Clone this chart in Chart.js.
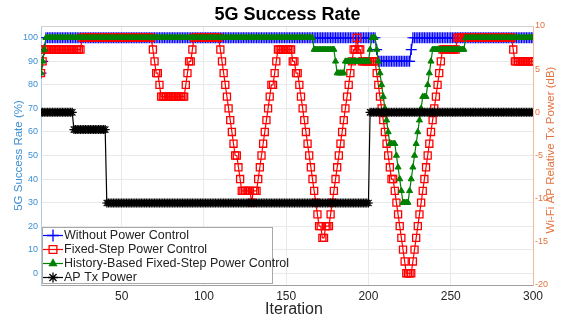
<!DOCTYPE html>
<html>
<head>
<meta charset="utf-8">
<title>5G Success Rate</title>
<script src="https://cdn.jsdelivr.net/npm/chart.js@4.4.1/dist/chart.umd.min.js"></script>
<style>
  html, body { margin: 0; padding: 0; background: #ffffff; }
  canvas { display: block; }
</style>
</head>
<body>
<canvas id="chart" width="575" height="320"></canvas>
<script>
// Iteration index (x axis) and tick positions
const ITERATIONS = Array.from({ length: 300 }, (_, i) => i + 1);
const X_TICKS = [50, 100, 150, 200, 250, 300];
const LEFT_TICKS = [0, 10, 20, 30, 40, 50, 60, 70, 80, 90, 100];
const RIGHT_TICKS = [-20, -15, -10, -5, 0, 5, 10];

const SERIES_NAMES = [
  'Without Power Control',
  'Fixed-Step Power Control',
  'History-Based Fixed-Step Power Control',
  'AP Tx Power'
];

// 5G success rate (%) without any AP power control
const WITHOUT_CONTROL = [
  85,90,95,100,100,100,100,100,100,100,100,100,100,100,100,100,100,100,100,100,
  100,100,100,100,100,100,100,100,100,100,100,100,100,100,100,100,100,100,100,100,
  100,100,100,100,100,100,100,100,100,100,100,100,100,100,100,100,100,100,100,100,
  100,100,100,100,100,100,100,100,100,100,100,100,100,100,100,100,100,100,100,100,
  100,100,100,100,100,100,100,100,100,100,100,100,100,100,100,100,100,100,100,100,
  100,100,100,100,100,100,100,100,100,100,100,100,100,100,100,100,100,100,100,100,
  100,100,100,100,100,100,100,100,100,100,100,100,100,100,100,100,100,100,100,100,
  100,100,100,100,100,100,100,100,100,100,100,100,100,100,100,100,100,100,100,100,
  100,100,100,100,100,100,100,100,100,100,100,100,100,100,100,100,100,100,100,100,
  100,100,100,100,100,100,100,100,100,100,100,100,100,100,100,100,100,100,100,100,
  100,100,100,100,95,90,90,90,90,90,90,90,90,90,90,90,90,90,90,90,
  90,90,90,90,90,95,100,100,100,100,100,100,100,100,100,100,100,100,100,100,
  100,100,100,100,100,100,100,100,100,100,100,100,100,100,100,100,100,100,100,100,
  100,100,100,100,100,100,100,100,100,100,100,100,100,100,100,100,100,100,100,100,
  100,100,100,100,100,100,100,100,100,100,100,100,100,100,100,100,100,100,100,100
];

// 5G success rate (%) with fixed-step AP power control
const FIXED_STEP = [
  85,90,95,95,95,95,95,95,95,95,95,95,95,95,95,95,95,95,95,95,
  95,95,95,95,95,100,100,100,100,100,100,100,100,100,100,100,100,100,100,100,
  100,100,100,100,100,100,100,100,100,100,100,100,100,100,100,100,100,100,100,100,
  100,100,100,100,100,100,100,100,95,90,85,85,80,75,75,75,75,75,75,75,
  75,75,75,75,75,75,75,75,80,85,90,90,95,100,100,100,100,100,100,100,
  100,100,100,100,100,100,100,100,100,95,90,85,80,75,70,65,60,55,50,50,
  45,40,35,35,35,35,35,35,30,35,35,35,40,45,50,55,60,65,70,75,
  80,80,85,90,95,95,95,95,95,95,95,95,95,90,90,85,85,80,75,70,
  65,60,55,50,45,40,35,30,25,20,20,15,15,20,20,20,25,30,35,40,
  45,50,55,60,65,70,75,80,85,90,95,95,100,95,95,90,90,90,90,90,
  90,90,90,90,85,80,75,70,65,60,55,50,45,40,40,35,30,25,20,15,
  10,5,0,0,0,0,5,10,15,20,25,30,35,40,45,50,55,60,65,70,
  75,80,85,90,95,95,95,95,95,95,95,95,95,100,100,100,100,100,100,100,
  100,100,100,100,100,100,100,100,100,100,100,100,100,100,100,100,100,100,100,100,
  100,100,100,100,100,100,100,95,90,90,90,90,90,90,90,90,90,90,90,90
];

// 5G success rate (%) with history-based fixed-step AP power control
const HISTORY_BASED = [
  85,90,95,100,100,100,100,100,100,100,100,100,100,100,100,100,100,100,100,100,
  100,100,100,100,100,100,100,100,100,100,100,100,100,100,100,100,100,100,100,100,
  100,100,100,100,100,100,100,100,100,100,100,100,100,100,100,100,100,100,100,100,
  100,100,100,100,100,100,100,100,100,100,100,100,100,100,100,100,100,100,100,100,
  100,100,100,100,100,100,100,100,100,100,100,100,100,100,100,100,100,100,100,100,
  100,100,100,100,100,100,100,100,100,100,100,100,100,100,100,100,100,100,100,100,
  100,100,100,100,100,100,100,100,100,100,100,100,100,100,100,100,100,100,100,100,
  100,100,100,100,100,100,100,100,100,100,100,100,100,100,100,100,100,100,100,100,
  100,100,100,100,100,100,95,95,95,95,95,95,95,95,95,95,95,95,95,90,
  85,85,85,85,85,90,90,90,90,90,90,90,90,90,90,90,90,90,90,90,
  95,100,100,100,95,90,85,80,75,70,65,60,55,55,55,55,50,45,40,35,
  30,30,30,30,35,40,45,50,55,60,65,70,75,75,75,80,85,90,95,95,
  95,95,95,95,95,95,95,95,95,95,95,95,95,95,95,95,95,95,100,100,
  100,100,100,100,100,100,100,100,100,100,100,100,100,100,100,100,100,100,100,100,
  100,100,100,100,100,100,100,100,100,100,100,100,100,100,100,100,100,100,100,100
];

// Relative Wi-Fi AP transmit power (dB)
const AP_TX_POWER = [
  0,0,0,0,0,0,0,0,0,0,0,0,0,0,0,0,0,0,0,0,
  -2,-2,-2,-2,-2,-2,-2,-2,-2,-2,-2,-2,-2,-2,-2,-2,-2,-2,-2,-2,
  -10.5,-10.5,-10.5,-10.5,-10.5,-10.5,-10.5,-10.5,-10.5,-10.5,-10.5,-10.5,-10.5,-10.5,-10.5,-10.5,-10.5,-10.5,-10.5,-10.5,
  -10.5,-10.5,-10.5,-10.5,-10.5,-10.5,-10.5,-10.5,-10.5,-10.5,-10.5,-10.5,-10.5,-10.5,-10.5,-10.5,-10.5,-10.5,-10.5,-10.5,
  -10.5,-10.5,-10.5,-10.5,-10.5,-10.5,-10.5,-10.5,-10.5,-10.5,-10.5,-10.5,-10.5,-10.5,-10.5,-10.5,-10.5,-10.5,-10.5,-10.5,
  -10.5,-10.5,-10.5,-10.5,-10.5,-10.5,-10.5,-10.5,-10.5,-10.5,-10.5,-10.5,-10.5,-10.5,-10.5,-10.5,-10.5,-10.5,-10.5,-10.5,
  -10.5,-10.5,-10.5,-10.5,-10.5,-10.5,-10.5,-10.5,-10.5,-10.5,-10.5,-10.5,-10.5,-10.5,-10.5,-10.5,-10.5,-10.5,-10.5,-10.5,
  -10.5,-10.5,-10.5,-10.5,-10.5,-10.5,-10.5,-10.5,-10.5,-10.5,-10.5,-10.5,-10.5,-10.5,-10.5,-10.5,-10.5,-10.5,-10.5,-10.5,
  -10.5,-10.5,-10.5,-10.5,-10.5,-10.5,-10.5,-10.5,-10.5,-10.5,-10.5,-10.5,-10.5,-10.5,-10.5,-10.5,-10.5,-10.5,-10.5,-10.5,
  -10.5,-10.5,-10.5,-10.5,-10.5,-10.5,-10.5,-10.5,-10.5,-10.5,-10.5,-10.5,-10.5,-10.5,-10.5,-10.5,-10.5,-10.5,-10.5,-10.5,
  0,0,0,0,0,0,0,0,0,0,0,0,0,0,0,0,0,0,0,0,
  0,0,0,0,0,0,0,0,0,0,0,0,0,0,0,0,0,0,0,0,
  0,0,0,0,0,0,0,0,0,0,0,0,0,0,0,0,0,0,0,0,
  0,0,0,0,0,0,0,0,0,0,0,0,0,0,0,0,0,0,0,0,
  0,0,0,0,0,0,0,0,0,0,0,0,0,0,0,0,0,0,0,0
];

const FONT = '"Liberation Sans", Arial, Helvetica, sans-serif';
const LEFT_COLOR = '#3d8fd3';
const RIGHT_COLOR = '#e2733f';
const GRID_COLOR = '#e9e9e9';

// Boxed legend in the lower-left corner of the plot, plus the top frame line
// and the right-hand / x-axis titles.
const decorations = {
  id: 'decorations',
  afterDatasetsDraw(chart) {
    const { ctx, chartArea: a } = chart;
    ctx.save();
    // top frame line
    ctx.strokeStyle = '#d2d2d2';
    ctx.lineWidth = 1;
    ctx.beginPath();
    ctx.moveTo(a.left, a.top + 0.5);
    ctx.lineTo(a.right, a.top + 0.5);
    ctx.stroke();

    // legend box
    const w = 231, h = 57;
    const x0 = a.left + 1, y0 = a.bottom - 1 - h;
    ctx.fillStyle = '#ffffff';
    ctx.fillRect(x0, y0, w, h);
    ctx.strokeStyle = '#a8a8a8';
    ctx.strokeRect(x0 + 0.5, y0 + 0.5, w - 1, h - 1);
    ctx.font = '12.5px ' + FONT;
    ctx.textBaseline = 'middle';
    ctx.textAlign = 'left';
    chart.data.datasets.forEach((ds, i) => {
      const y = y0 + 8.5 + i * 14;
      ctx.strokeStyle = ds.borderColor;
      ctx.lineWidth = 1.2;
      ctx.beginPath();
      ctx.moveTo(x0 + 1, y);
      ctx.lineTo(x0 + 21, y);
      ctx.stroke();
      ctx.fillStyle = ds.pointBackgroundColor;
      ctx.lineWidth = 1.3;
      Chart.helpers.drawPoint(ctx, {
        pointStyle: ds.pointStyle, radius: ds.pointRadius + 0.5,
        borderWidth: 1.3, rotation: 0
      }, x0 + 11, y);
      ctx.fillStyle = '#222222';
      ctx.fillText(SERIES_NAMES[i], x0 + 22, y + 0.5);
    });

    // right axis title (reads bottom to top)
    ctx.save();
    ctx.translate(551, 150);
    ctx.rotate(-Math.PI / 2);
    ctx.textAlign = 'center';
    ctx.fillStyle = RIGHT_COLOR;
    ctx.font = '11.5px ' + FONT;
    ctx.fillText('Wi-Fi AP Relative Tx Power (dB)', 0, 0);
    ctx.restore();

    // x axis title
    ctx.textAlign = 'center';
    ctx.fillStyle = '#262626';
    ctx.font = '16px ' + FONT;
    ctx.fillText('Iteration', 294, 310);
    ctx.restore();
  }
};

const ticksFrom = (list) => (scale) => { scale.ticks = list.map(v => ({ value: v })); };

new Chart(document.getElementById('chart'), {
  type: 'line',
  data: {
    labels: ITERATIONS,
    datasets: [
      {
        label: SERIES_NAMES[0], data: WITHOUT_CONTROL, yAxisID: 'y', order: 3,
        borderColor: '#0000ff', borderWidth: 1.2,
        pointStyle: 'cross', pointRadius: 5.5, pointBorderWidth: 1.2,
        pointBackgroundColor: '#0000ff', pointBorderColor: '#0000ff'
      },
      {
        label: SERIES_NAMES[1], data: FIXED_STEP, yAxisID: 'y', order: 2,
        borderColor: '#ff0000', borderWidth: 1.2,
        pointStyle: 'rect', pointRadius: 5, pointBorderWidth: 1.3,
        pointBackgroundColor: 'rgba(255,255,255,0)', pointBorderColor: '#ff0000'
      },
      {
        label: SERIES_NAMES[2], data: HISTORY_BASED, yAxisID: 'y', order: 1,
        borderColor: '#008000', borderWidth: 1.2,
        pointStyle: 'triangle', pointRadius: 3.5, pointBorderWidth: 1,
        pointBackgroundColor: '#008000', pointBorderColor: '#008000'
      },
      {
        label: SERIES_NAMES[3], data: AP_TX_POWER, yAxisID: 'y1', order: 0,
        borderColor: '#000000', borderWidth: 1.2,
        pointStyle: 'star', pointRadius: 4.5, pointBorderWidth: 1.2,
        pointBackgroundColor: '#000000', pointBorderColor: '#000000'
      }
    ]
  },
  options: {
    responsive: false,
    animation: false,
    devicePixelRatio: 1,
    layout: { padding: 0 },
    elements: { line: { tension: 0 } },
    plugins: {
      legend: { display: false },
      tooltip: { enabled: false },
      title: {
        display: true,
        text: '5G Success Rate',
        color: '#000000',
        font: { family: FONT, size: 18, weight: 'bold', lineHeight: 1 },
        padding: { top: 6, bottom: 2 }
      }
    },
    scales: {
      x: {
        type: 'linear', min: 1, max: 300,
        afterBuildTicks: ticksFrom(X_TICKS),
        afterFit: (s) => { s.height = 35; },
        grid: { color: GRID_COLOR, drawTicks: false },
        border: { color: '#a0a0a0' },
        ticks: { color: '#262626', font: { family: FONT, size: 12 }, padding: 4, maxRotation: 0 }
      },
      y: {
        position: 'left', min: -5, max: 105,
        afterBuildTicks: ticksFrom(LEFT_TICKS),
        afterFit: (s) => { s.width = 41; },
        grid: { color: GRID_COLOR, drawTicks: false },
        border: { color: '#a9cbea' },
        ticks: { color: LEFT_COLOR, font: { family: FONT, size: 9 }, padding: 3 },
        title: {
          display: true, text: '5G Success Rate (%)', color: LEFT_COLOR,
          font: { family: FONT, size: 11.5, lineHeight: 1.2 },
          padding: { top: 11.5, bottom: 0 }
        }
      },
      y1: {
        position: 'right', min: -20, max: 10,
        afterBuildTicks: ticksFrom(RIGHT_TICKS),
        afterFit: (s) => { s.width = 42; },
        grid: { drawOnChartArea: false, drawTicks: false },
        border: { color: '#f1b99c' },
        ticks: { color: RIGHT_COLOR, font: { family: FONT, size: 9 }, padding: 2 }
      }
    }
  },
  plugins: [decorations]
});
</script>
</body>
</html>
